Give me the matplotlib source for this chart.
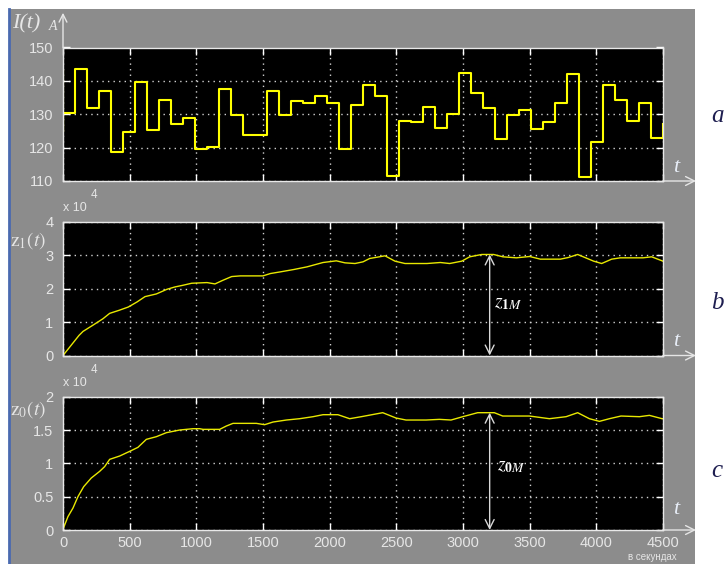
import numpy as np
import matplotlib
matplotlib.use("Agg")
import matplotlib.pyplot as plt
from matplotlib.patches import Rectangle
from matplotlib.lines import Line2D

# ток I(t) и накопленные величины z1(t), z0(t) (осциллограммы)

plt.rcParams["font.family"] = ["Liberation Sans", "DejaVu Sans"]
plt.rcParams["mathtext.fontset"] = "stix"

# --- данные ---
# ступенчатый ток, моменты переключения (с) и значения (А)
I_t = [0, 0,
       0, 90, 180, 270, 360, 450, 540, 630, 720, 810,
       900, 990, 1080, 1170, 1260, 1350, 1440, 1530, 1620, 1710,
       1800, 1890, 1980, 2070, 2160, 2250, 2340, 2430, 2520, 2610,
       2700, 2790, 2880, 2970, 3060, 3150, 3240, 3330, 3420, 3510,
       3600, 3690, 3780, 3870, 3960, 4050, 4140, 4230, 4320, 4410,
       4500]
I_v = [143.4, 124.7,
       130.5, 143.6, 132.0, 136.9, 118.7, 124.8, 139.7, 125.2, 134.4, 127.2,
       128.8, 119.6, 120.2, 137.6, 129.7, 123.8, 123.8, 136.9, 129.7, 134.0,
       133.4, 135.6, 133.4, 119.6, 132.8, 138.9, 135.6, 111.4, 127.9, 127.6,
       132.2, 126.0, 130.0, 142.5, 136.5, 131.9, 122.7, 129.7, 131.2, 125.6,
       127.6, 133.4, 142.2, 111.1, 121.6, 138.9, 134.4, 128.0, 133.4, 122.8,
       127.2]

# z1(t), в единицах 10^4
z1_t = [0, 60, 120, 150, 230, 300, 350, 420, 490, 555, 615, 700, 780, 840,
        900, 965, 1080, 1140, 1200, 1265, 1330, 1500, 1555, 1630, 1730, 1830,
        1950, 2050, 2115, 2190, 2250, 2300, 2415, 2490, 2565, 2730, 2830, 2900,
        2990, 3050, 3140, 3230, 3300, 3400, 3500, 3580, 3730, 3790, 3860, 3980,
        4040, 4115, 4180, 4350, 4415, 4500]
z1_v = [0, 0.30, 0.60, 0.72, 0.92, 1.10, 1.26, 1.35, 1.45, 1.60, 1.76, 1.84,
        1.98, 2.05, 2.10, 2.16, 2.18, 2.14, 2.25, 2.36, 2.38, 2.38, 2.45, 2.50,
        2.57, 2.65, 2.78, 2.83, 2.77, 2.75, 2.80, 2.90, 2.98, 2.82, 2.75, 2.75,
        2.78, 2.75, 2.82, 2.95, 3.02, 3.02, 2.95, 2.92, 2.96, 2.88, 2.88, 2.93,
        3.02, 2.82, 2.75, 2.88, 2.92, 2.92, 2.95, 2.82]

# z0(t), в единицах 10^4
z0_t = [0, 37, 75, 112, 155, 212, 275, 312, 350, 425, 500, 562, 625, 700,
        775, 875, 975, 1025, 1050, 1175, 1225, 1275, 1450, 1512, 1575, 1675,
        1775, 1875, 1950, 2062, 2150, 2237, 2398, 2498, 2573, 2723, 2823, 2910,
        2998, 3110, 3235, 3298, 3498, 3648, 3773, 3860, 3948, 4023, 4098, 4185,
        4323, 4398, 4493, 4500]
z0_v = [0.01, 0.20, 0.33, 0.50, 0.65, 0.78, 0.88, 0.95, 1.06, 1.11, 1.18, 1.24,
        1.36, 1.40, 1.46, 1.50, 1.52, 1.52, 1.51, 1.51, 1.56, 1.60, 1.60, 1.58,
        1.62, 1.65, 1.67, 1.70, 1.73, 1.73, 1.67, 1.70, 1.76, 1.68, 1.65, 1.65,
        1.66, 1.65, 1.70, 1.76, 1.76, 1.71, 1.71, 1.67, 1.70, 1.76, 1.67, 1.63,
        1.67, 1.71, 1.70, 1.72, 1.67, 1.67]

# максимумы, отмеченные стрелками
t_max = 3200
z1_max = 3.02
z0_max = 1.76

x_ticks = [0, 500, 1000, 1500, 2000, 2500, 3000, 3500, 4000, 4500]
W, H = 726, 564
LIGHT = "#e6e6e6"


def fx(px):
    return px / W


def fy(py):
    return 1 - py / H


def style_axis(ax, yticks, ylabels, show_x):
    ax.set_facecolor("black")
    for s in ax.spines.values():
        s.set_color("#e8e8e8")
        s.set_linewidth(1)
    ax.set_xlim(0, 4500)
    ax.set_xticks(x_ticks)
    ax.set_ylim(yticks[0], yticks[-1])
    ax.set_yticks(yticks)
    ax.set_yticklabels(ylabels)
    if not show_x:
        ax.set_xticklabels([])
    ax.tick_params(direction="in", length=5, width=1, color="white",
                   labelcolor=LIGHT, labelsize=10.5, top=True, right=True)
    ax.tick_params(axis="y", pad=7)
    ax.tick_params(axis="x", pad=4)
    ax.grid(True, color="#d0d0d0", linestyle=(0, (1, 3)), linewidth=1)
    # стрелка оси t
    ax.annotate("", xy=(1.055, 0), xytext=(1, 0), xycoords="axes fraction",
                arrowprops=dict(arrowstyle="->", color=LIGHT, lw=1,
                                shrinkA=0, shrinkB=0, mutation_scale=16),
                annotation_clip=False)


fig = plt.figure(figsize=(W / 100, H / 100), dpi=100)

# серый фон окна осциллографа
fig.patches.append(Rectangle((fx(10), 0), fx(695) - fx(10), fy(9),
                             transform=fig.transFigure, facecolor="#8c8c8c",
                             edgecolor="none", zorder=-10))
fig.lines.append(Line2D([fx(9), fx(9)], [0, fy(9)], transform=fig.transFigure,
                        color="#4a6ab0", lw=2, zorder=-9))

ax_a = fig.add_axes([fx(63), fy(181), 600 / W, 133.5 / H])
ax_b = fig.add_axes([fx(63), fy(355.5), 600 / W, 133.8 / H])
ax_c = fig.add_axes([fx(63), fy(530), 600 / W, 133.3 / H])

style_axis(ax_a, [110, 120, 130, 140, 150], ["110", "120", "130", "140", "150"], False)
style_axis(ax_b, [0, 1, 2, 3, 4], ["0", "1", "2", "3", "4"], False)
style_axis(ax_c, [0, 0.5, 1, 1.5, 2], ["0", "0.5", "1", "1.5", "2"], True)

ax_a.plot(I_t, I_v, drawstyle="steps-post", color="#ffff00", lw=1.5)
ax_b.plot(z1_t, z1_v, color="#e8e800", lw=1.0)
ax_c.plot(z0_t, z0_v, color="#e8e800", lw=1.0)

# стрелки максимумов
for ax, zm in [(ax_b, z1_max), (ax_c, z0_max)]:
    ax.annotate("", xy=(t_max, 0), xytext=(t_max, zm),
                arrowprops=dict(arrowstyle="<->", color="#d8d8d8", lw=1,
                                shrinkA=0, shrinkB=0, mutation_scale=16))
ax_b.text(3235, 1.55, r"$z_{\mathbf{1}M}$", color="white", fontsize=14, va="center")
ax_c.text(3255, 0.95, r"$z_{\mathbf{0}M}$", color="white", fontsize=14, va="center")

# стрелка оси ординат верхнего графика
ax_a.annotate("", xy=(0, 1.26), xytext=(0, 1), xycoords="axes fraction",
              arrowprops=dict(arrowstyle="->", color=LIGHT, lw=1,
                              shrinkA=0, shrinkB=0, mutation_scale=14),
              annotation_clip=False)

# подписи осей
serif = ["Liberation Serif", "DejaVu Serif"]
fig.text(fx(12), fy(24), "I(t)", family=serif, style="italic", fontsize=16,
         color=LIGHT, va="center", ha="left")
fig.text(fx(49), fy(27), "A", family=serif, style="italic", fontsize=10,
         color=LIGHT, va="center", ha="left")
fig.text(fx(10), fy(241), r"$\mathrm{z}_1(t)$", fontsize=14, color=LIGHT,
         va="center", ha="left")
fig.text(fx(10), fy(410), r"$\mathrm{z}_0(t)$", fontsize=14, color=LIGHT,
         va="center", ha="left")

for py in [168, 342, 510]:
    fig.text(fx(676), fy(py), "t", family=serif, style="italic", fontsize=16,
             color="#e8eef8", va="center", ha="center")

# множитель x 10^4
for py in [208, 383]:
    fig.text(fx(63), fy(py), "x 10", fontsize=9, color=LIGHT, va="center", ha="left")
    fig.text(fx(91), fy(py - 13), "4", fontsize=8.5, color=LIGHT, va="center", ha="left")

fig.text(fx(652), fy(557), "в секундах", fontsize=7, color=LIGHT,
         va="center", ha="center")

for lab, py in [("a", 116), ("b", 303), ("c", 471)]:
    fig.text(fx(717), fy(py), lab, family=serif, style="italic", fontsize=18,
             color="#1e1e50", va="center", ha="center")

fig.savefig("out.png", dpi=100)
